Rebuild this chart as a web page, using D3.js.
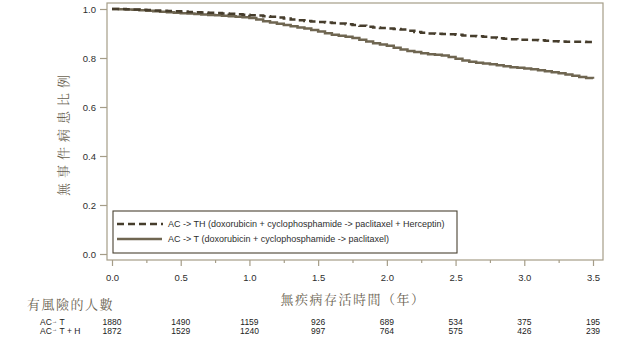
<!DOCTYPE html>
<html><head><meta charset="utf-8">
<script src="https://cdn.jsdelivr.net/npm/d3@7"></script>
<style>body{margin:0;background:#fff}svg{display:block}</style>
</head><body><svg id="c" width="634" height="348"></svg>
<script>
const timesTH = [0,0.05,0.1,0.15,0.2,0.25,0.3,0.35,0.4,0.45,0.5,0.55,0.6,0.65,0.7,0.75,0.8,0.85,0.9,0.95,1.0,1.05,1.1,1.15,1.2,1.25,1.3,1.35,1.4,1.45,1.5,1.55,1.6,1.65,1.7,1.75,1.8,1.85,1.9,1.95,2.0,2.05,2.1,2.15,2.2,2.25,2.3,2.35,2.4,2.45,2.5,2.55,2.6,2.65,2.7,2.75,2.8,2.85,2.9,2.95,3.0,3.05,3.1,3.15,3.2,3.25,3.3,3.35,3.4,3.45,3.5];
const survTH  = [1.0,1.0,0.999,0.998,0.997,0.996,0.994,0.993,0.992,0.991,0.990,0.988,0.987,0.986,0.985,0.984,0.982,0.981,0.979,0.977,0.975,0.973,0.970,0.968,0.965,0.961,0.957,0.954,0.951,0.949,0.947,0.945,0.943,0.941,0.938,0.935,0.932,0.928,0.925,0.922,0.920,0.918,0.916,0.911,0.906,0.903,0.900,0.899,0.898,0.897,0.895,0.892,0.890,0.889,0.887,0.884,0.881,0.879,0.877,0.875,0.874,0.873,0.872,0.870,0.868,0.867,0.866,0.866,0.866,0.865,0.865];
const timesT  = [0,0.05,0.1,0.15,0.2,0.25,0.3,0.35,0.4,0.45,0.5,0.55,0.6,0.65,0.7,0.75,0.8,0.85,0.9,0.95,1.0,1.05,1.1,1.15,1.2,1.25,1.3,1.35,1.4,1.45,1.5,1.55,1.6,1.65,1.7,1.75,1.8,1.85,1.9,1.95,2.0,2.05,2.1,2.15,2.2,2.25,2.3,2.35,2.4,2.45,2.5,2.55,2.6,2.65,2.7,2.75,2.8,2.85,2.9,2.95,3.0,3.05,3.1,3.15,3.2,3.25,3.3,3.35,3.4,3.45,3.5];
const survT   = [1.0,0.999,0.998,0.997,0.995,0.993,0.991,0.989,0.987,0.985,0.983,0.982,0.980,0.978,0.976,0.974,0.972,0.970,0.968,0.966,0.963,0.957,0.950,0.945,0.940,0.935,0.930,0.925,0.920,0.914,0.908,0.901,0.895,0.891,0.887,0.882,0.875,0.867,0.860,0.855,0.850,0.842,0.835,0.829,0.824,0.819,0.815,0.813,0.810,0.804,0.797,0.790,0.785,0.781,0.778,0.774,0.770,0.766,0.762,0.760,0.757,0.754,0.750,0.746,0.742,0.738,0.733,0.728,0.722,0.718,0.715];
const seriesNames = ["AC -> TH (doxorubicin + cyclophosphamide -> paclitaxel + Herceptin)","AC -> T (doxorubicin + cyclophosphamide -> paclitaxel)"];
const xTicks = [0,0.5,1.0,1.5,2.0,2.5,3.0,3.5];
const xMinorTicks = [0.25,0.75,1.25,1.75,2.25,2.75,3.25];
const yTicks = [0,0.2,0.4,0.6,0.8,1.0];
const riskTimes = [0,0.5,1.0,1.5,2.0,2.5,3.0,3.5];
const riskT  = [1880,1490,1159,926,689,534,375,195];
const riskTH = [1872,1529,1240,997,764,575,426,239];
const yTitle = "無事件病患比例";
const xTitle = "無疾病存活時間（年）";
const riskTitle = "有風險的人數";

const svg = d3.select("#c");
const frameL=107, frameR=603, frameT=3, frameB=260;
const x = d3.scaleLinear().domain([0,3.5]).range([112,593]);
const y = d3.scaleLinear().domain([0,1]).range([254,9]);
const axisCol="#a59d88", txtCol="#2e2e2e", cjkCol="#6b6352";

svg.append("rect").attr("x",frameL).attr("y",frameT).attr("width",frameR-frameL).attr("height",frameB-frameT)
  .attr("fill","none").attr("stroke",axisCol).attr("stroke-width",1.2);

// y axis
const yAxis = d3.axisLeft(y).tickValues(yTicks).tickFormat(d3.format(".1f")).tickSize(7).tickPadding(4);
const gy = svg.append("g").attr("transform",`translate(${frameL},0)`).call(yAxis);
gy.select(".domain").remove();
gy.selectAll("line").attr("stroke",axisCol).attr("stroke-width",1.2);
gy.selectAll("text").attr("fill",txtCol).style("font-family","Liberation Sans, Arial").style("font-size","9.5px");

// x axis
const xAxis = d3.axisBottom(x).tickValues(xTicks).tickFormat(d3.format(".1f")).tickSize(6).tickPadding(8);
const gx = svg.append("g").attr("transform",`translate(0,${frameB})`).call(xAxis);
gx.select(".domain").remove();
gx.selectAll("line").attr("stroke",axisCol).attr("stroke-width",1.2);
gx.selectAll("text").attr("fill",txtCol).style("font-family","Liberation Sans, Arial").style("font-size","9.5px");
const gxm = svg.append("g").attr("transform",`translate(0,${frameB})`).call(d3.axisBottom(x).tickValues(xMinorTicks).tickSize(3).tickFormat(""));
gxm.select(".domain").remove();
gxm.selectAll("line").attr("stroke",axisCol).attr("stroke-width",1.2);

// curves
const line = d3.line().curve(d3.curveStepAfter).x(d=>x(d[0])).y(d=>y(d[1]));
svg.append("path").datum(timesT.map((t,i)=>[t,survT[i]])).attr("d",line)
  .attr("fill","none").attr("stroke","#6f6651").attr("stroke-width",2.5);
svg.append("path").datum(timesTH.map((t,i)=>[t,survTH[i]])).attr("d",line)
  .attr("fill","none").attr("stroke","#463d2c").attr("stroke-width",2.5).attr("stroke-dasharray","7,4");

// legend
const lg = svg.append("g");
lg.append("rect").attr("x",113).attr("y",211).attr("width",344).attr("height",42)
  .attr("fill","#fff").attr("stroke","#4a4232").attr("stroke-width",1.1);
lg.append("line").attr("x1",117).attr("x2",163).attr("y1",224).attr("y2",224)
  .attr("stroke","#463d2c").attr("stroke-width",2.6).attr("stroke-dasharray","7,4");
lg.append("line").attr("x1",117).attr("x2",162).attr("y1",239).attr("y2",239)
  .attr("stroke","#6f6651").attr("stroke-width",2.6);
lg.selectAll("text.lt").data(seriesNames).enter().append("text").attr("class","lt")
  .attr("x",168).attr("y",(d,i)=>227+i*15).text(d=>d)
  .attr("fill",txtCol).style("font-family","Liberation Sans, Arial").style("font-size","9px");

// titles
const cjk = "'Noto Serif CJK TC','Noto Sans CJK TC','Noto Sans CJK SC',serif";
svg.append("text").attr("transform","translate(68,133) rotate(-90)").attr("text-anchor","middle")
  .text(yTitle).attr("fill",cjkCol).style("font-family",cjk).style("font-size","13px").style("letter-spacing","5px");
svg.append("text").attr("x",353).attr("y",304).attr("text-anchor","middle")
  .text(xTitle).attr("fill",cjkCol).style("font-family",cjk).style("font-size","13px").style("letter-spacing","1.5px");
svg.append("text").attr("x",27).attr("y",309)
  .text(riskTitle).attr("fill",cjkCol).style("font-family",cjk).style("font-size","13px").style("letter-spacing","1.5px");

// risk table
const rf = {family:"Liberation Sans, Arial", size:"8.5px"};
const rowLabels = ["T","T + H"];
[riskT,riskTH].forEach((row,r)=>{
  const yy = 325 + r*8.5;
  const t = svg.append("text").attr("x",40).attr("y",yy).attr("fill","#222")
    .style("font-family",rf.family).style("font-size",rf.size);
  t.append("tspan").text("AC");
  t.append("tspan").text("→").attr("dy",-2.5).style("font-size","5.5px");
  t.append("tspan").text(" "+rowLabels[r]).attr("dy",2.5);
  svg.selectAll(null).data(row).enter().append("text")
    .attr("x",(d,i)=>x(riskTimes[i])).attr("y",yy).attr("text-anchor","middle")
    .text(d=>d).attr("fill","#222").style("font-family",rf.family).style("font-size",rf.size);
});
</script></body></html>
